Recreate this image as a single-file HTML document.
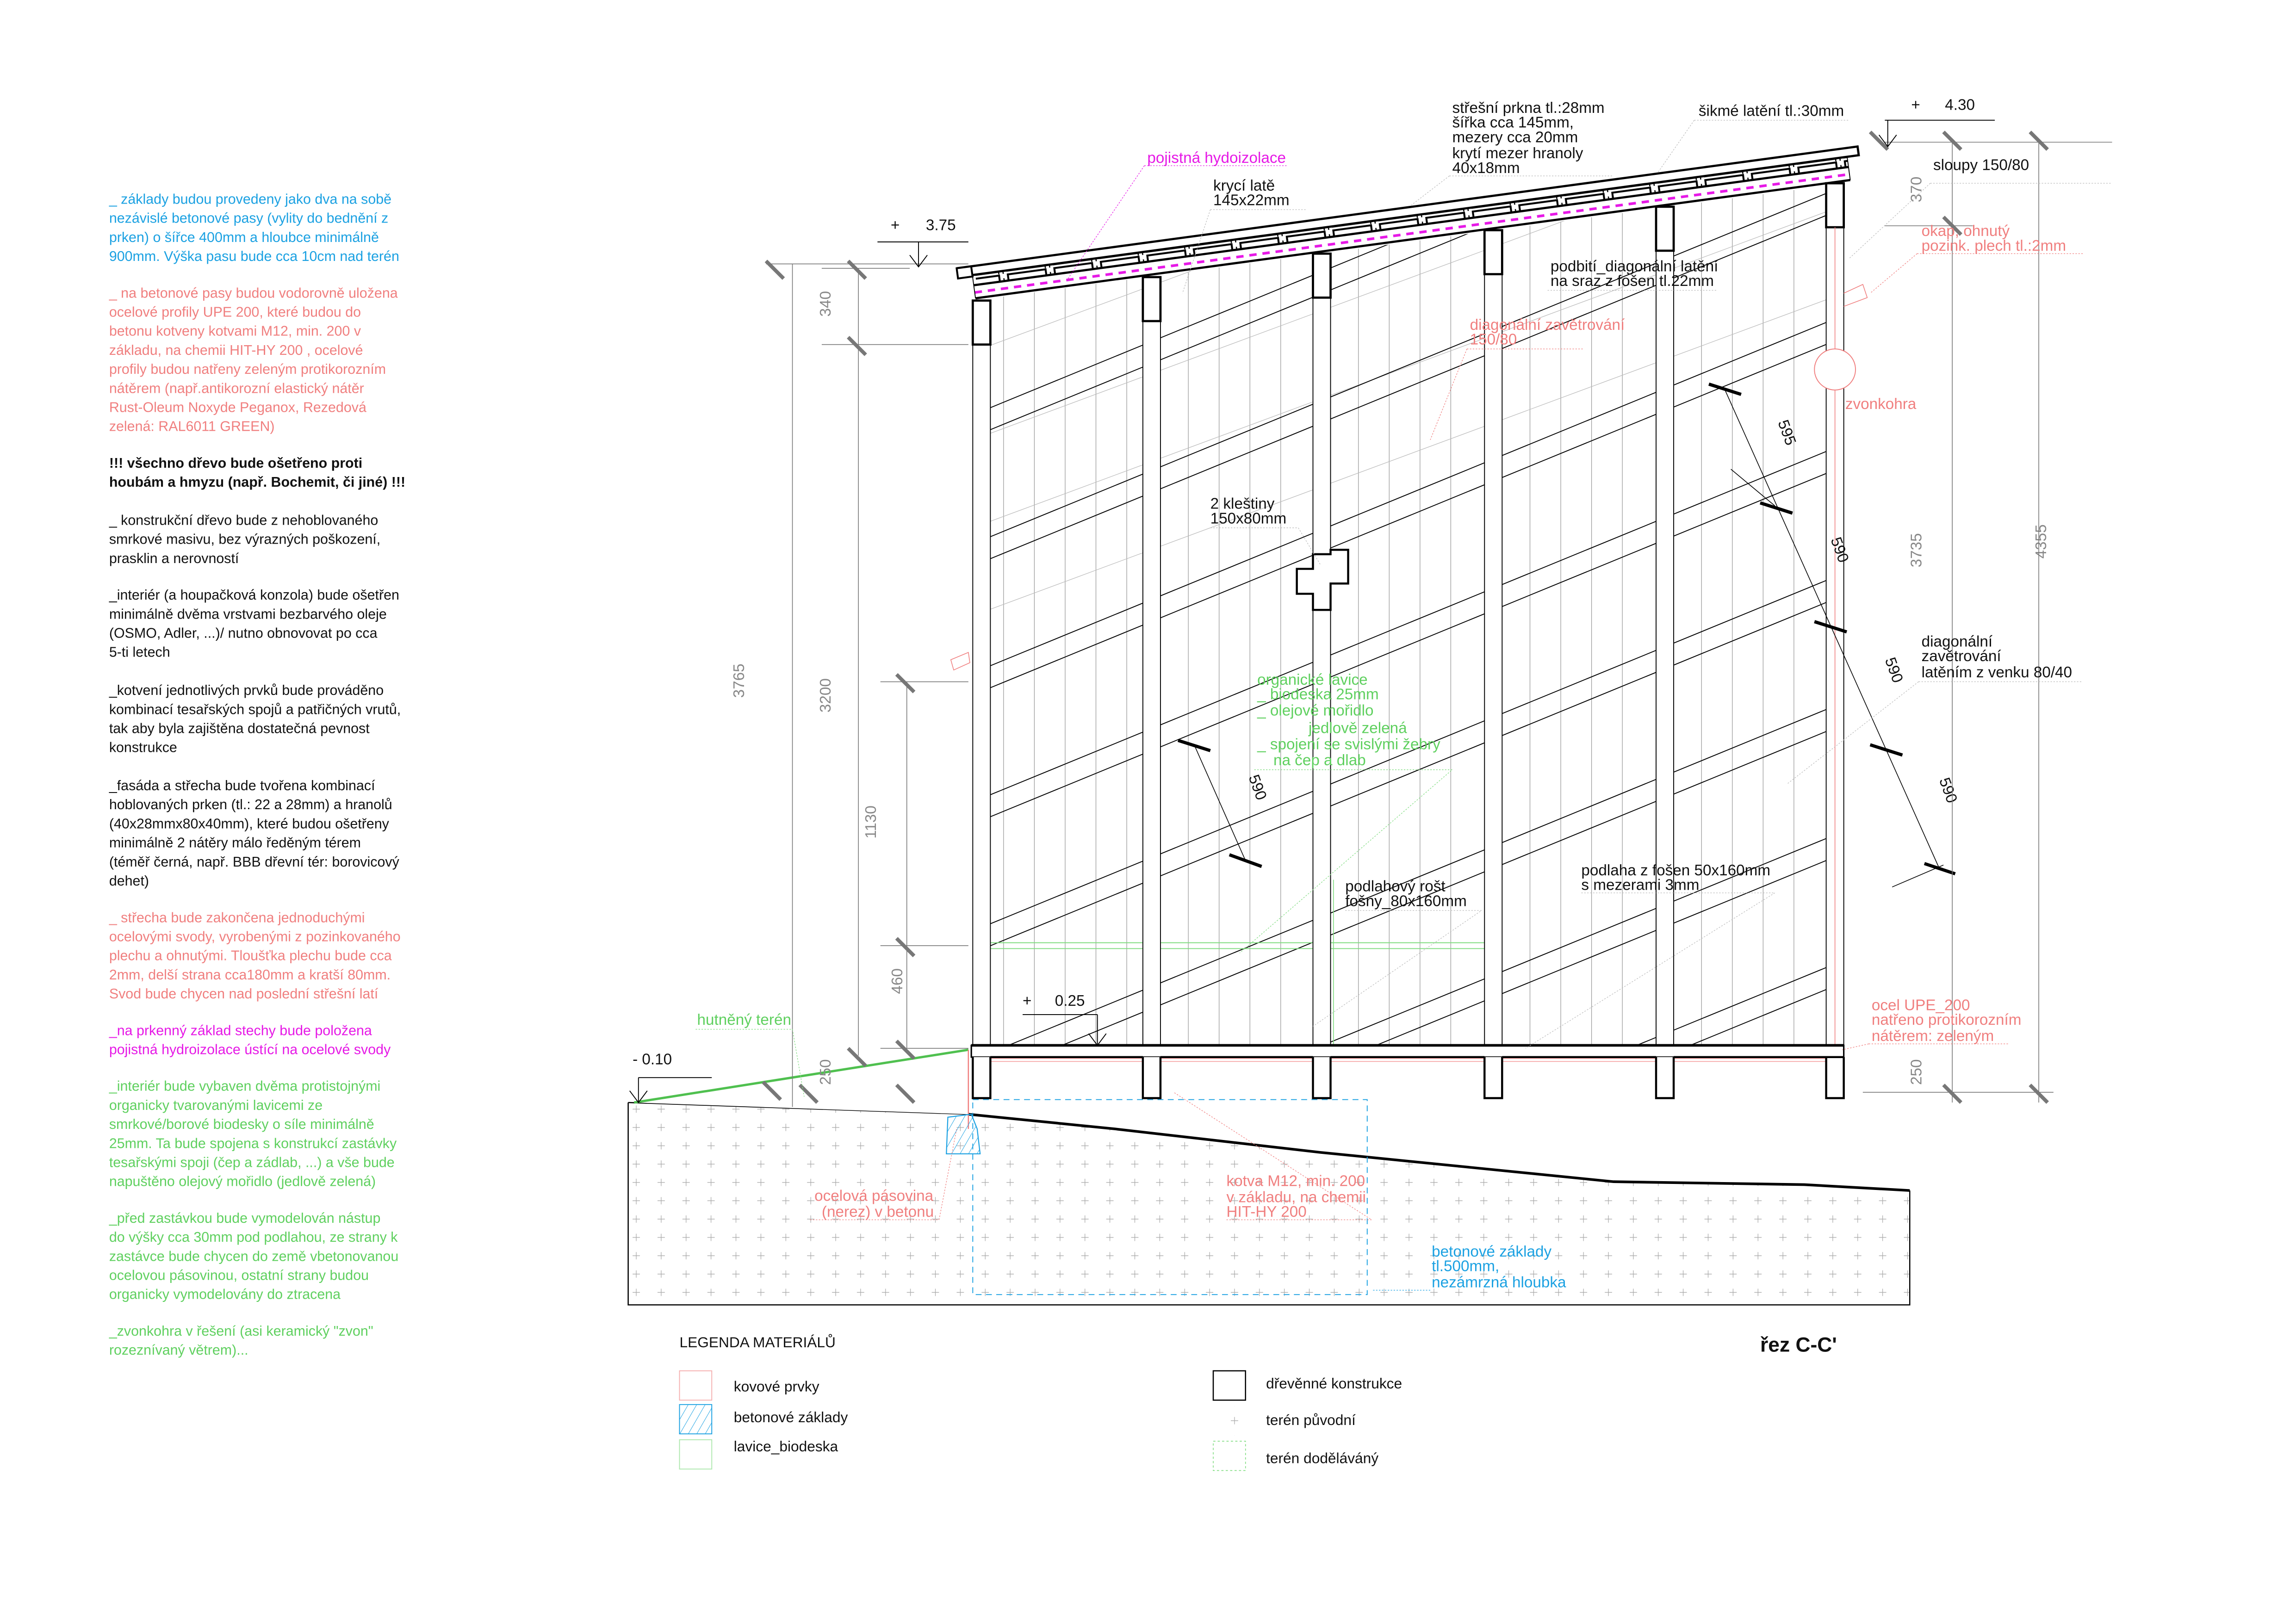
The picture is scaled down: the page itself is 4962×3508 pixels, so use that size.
<!DOCTYPE html>
<html><head><meta charset="utf-8"><style>
html,body{margin:0;padding:0;background:#fff}
svg{display:block}
text{font-family:"Liberation Sans",sans-serif}
.n{font-family:"Liberation Sans Narrow","Liberation Sans",sans-serif;font-size:10.5px}
.lt{font-size:9.6px}
.c{fill:#1ba1e2}.s{fill:#f07f7f}.g{fill:#5fd05f}.m{fill:#e619e6}.k{fill:#111}
.d{fill:#888;font-size:10.5px}
</style></head><body>
<svg width="4962" height="3508" viewBox="0 0 1565 1107" xmlns="http://www.w3.org/2000/svg">
<defs>
<pattern id="cr" width="17" height="12.5" patternUnits="userSpaceOnUse">
<path d="M6 6.5h5M8.5 4v5" stroke="#aaa" stroke-width="0.4"/>
</pattern>
<pattern id="slat" width="32" height="8" patternUnits="userSpaceOnUse">
<rect x="2" y="0.8" width="26" height="5.4" fill="none" stroke="#000" stroke-width="1.3"/>
<path d="M28 3v5M31 3v5" stroke="#000" stroke-width="0.8"/>
</pattern>
<pattern id="hat" width="5" height="5" patternUnits="userSpaceOnUse" patternTransform="rotate(30)">
<path d="M0 0v5" stroke="#1ba1e2" stroke-width="0.6"/>
</pattern>
<clipPath id="wall"><path d="M663 205 L1257 125 L1257 713 L663 713 Z"/></clipPath>
</defs>
<rect width="1565" height="1107" fill="#fff"/>

<!-- LEFT TEXT -->
<g class="lt">
<text class="c" x="74" y="139">_ základy budou provedeny jako dva na sobě</text>
<text class="c" x="74" y="152">nezávislé betonové pasy (vylity do bednění z</text>
<text class="c" x="74" y="165">prken) o šířce 400mm a hloubce minimálně</text>
<text class="c" x="74" y="178">900mm. Výška pasu bude cca 10cm nad terén</text>
<text class="s" x="74" y="203">_ na betonové pasy budou vodorovně uložena</text>
<text class="s" x="74" y="216">ocelové profily UPE 200, které budou do</text>
<text class="s" x="74" y="229">betonu kotveny kotvami M12, min. 200 v</text>
<text class="s" x="74" y="242">základu, na  chemii HIT-HY 200 , ocelové</text>
<text class="s" x="74" y="255">profily budou natřeny zeleným protikorozním</text>
<text class="s" x="74" y="268">nátěrem (např.antikorozní elastický nátěr</text>
<text class="s" x="74" y="281">Rust-Oleum Noxyde Peganox, Rezedová</text>
<text class="s" x="74" y="294">zelená: RAL6011 GREEN)</text>
<text class="k" x="74" y="319" font-weight="bold">!!! všechno dřevo bude ošetřeno proti</text>
<text class="k" x="74" y="332" font-weight="bold">houbám a hmyzu (např. Bochemit, či jiné) !!!</text>
<text class="k" x="74" y="358">_ konstrukční dřevo bude z nehoblovaného</text>
<text class="k" x="74" y="371">smrkové masivu, bez výrazných poškození,</text>
<text class="k" x="74" y="384">prasklin a nerovností</text>
<text class="k" x="74" y="409">_interiér (a houpačková konzola) bude ošetřen</text>
<text class="k" x="74" y="422">minimálně dvěma vrstvami bezbarvého oleje</text>
<text class="k" x="74" y="435">(OSMO, Adler, ...)/ nutno obnovovat po cca</text>
<text class="k" x="74" y="448">5-ti letech</text>
<text class="k" x="74" y="474">_kotvení jednotlivých prvků bude prováděno</text>
<text class="k" x="74" y="487">kombinací tesařských spojů a patřičných vrutů,</text>
<text class="k" x="74" y="500"> tak aby byla zajištěna dostatečná pevnost</text>
<text class="k" x="74" y="513">konstrukce</text>
<text class="k" x="74" y="539">_fasáda a střecha bude tvořena kombinací</text>
<text class="k" x="74" y="552">hoblovaných prken (tl.: 22 a 28mm) a hranolů</text>
<text class="k" x="74" y="565">(40x28mmx80x40mm), které budou ošetřeny</text>
<text class="k" x="74" y="578">minimálně 2 nátěry málo ředěným térem</text>
<text class="k" x="74" y="591">(téměř černá, např. BBB dřevní tér: borovicový</text>
<text class="k" x="74" y="604">dehet)</text>
<text class="s" x="74" y="629">_ střecha bude zakončena jednoduchými</text>
<text class="s" x="74" y="642">ocelovými svody, vyrobenými z pozinkovaného</text>
<text class="s" x="74" y="655">plechu a ohnutými. Tloušťka plechu bude cca</text>
<text class="s" x="74" y="668">2mm, delší strana cca180mm a kratší 80mm.</text>
<text class="s" x="74" y="681">Svod bude chycen nad poslední střešní latí</text>
<text class="m" x="74" y="706">_na prkenný základ stechy bude položena</text>
<text class="m" x="74" y="719">pojistná hydroizolace ústící na ocelové svody</text>
<text class="g" x="74" y="744">_interiér bude vybaven dvěma protistojnými</text>
<text class="g" x="74" y="757">organicky tvarovanými lavicemi ze</text>
<text class="g" x="74" y="770">smrkové/borové biodesky o síle  minimálně</text>
<text class="g" x="74" y="783">25mm. Ta bude spojena s konstrukcí zastávky</text>
<text class="g" x="74" y="796">tesařskými spoji (čep a zádlab, ...) a vše bude</text>
<text class="g" x="74" y="809">napuštěno olejový mořidlo (jedlově zelená)</text>
<text class="g" x="74" y="834">_před zastávkou bude  vymodelován nástup</text>
<text class="g" x="74" y="847">do výšky cca 30mm pod podlahou, ze strany k</text>
<text class="g" x="74" y="860">zastávce bude chycen do země vbetonovanou</text>
<text class="g" x="74" y="873">ocelovou pásovinou, ostatní strany budou</text>
<text class="g" x="74" y="886">organicky vymodelovány do ztracena</text>
<text class="g" x="74" y="911">_zvonkohra v řešení (asi keramický "zvon"</text>
<text class="g" x="74" y="924">rozeznívaný větrem)...</text>
</g>

<!-- TERRAIN -->
<path d="M428 752 L660 760 L760 770 L900 786 L1000 796 L1100 806 L1230 808 L1302 812 L1302 890 L428 890 Z" fill="url(#cr)"/>
<path d="M428 752 L660 760" stroke="#000" stroke-width="0.8" fill="none"/>
<path d="M660 760 L760 770 L900 786 L1000 796 L1100 806 L1230 808 L1302 812" stroke="#000" stroke-width="1.8" fill="none"/>
<path d="M428 752 V890 H1302 V812" stroke="#000" stroke-width="0.8" fill="none"/>
<path d="M432 752 L660 715 L660 760 Z" fill="#fff"/>
<path d="M432 752 L660 716" stroke="#4fc04f" stroke-width="1.6"/>
<path d="M660 716 V770" stroke="#f07f7f" stroke-width="0.8"/>
<path d="M646 762 L662 760 L666 770 L668 787 L645 787 Z" fill="url(#hat)" stroke="#1ba1e2" stroke-width="0.7"/>
<rect x="663" y="750" width="269" height="133" fill="none" stroke="#1ba1e2" stroke-width="0.6" stroke-dasharray="4 3"/>
<path d="M663 722 H1257 M663 724 H1257" stroke="#f5a0a0" stroke-width="0.5"/>

<!-- WALL -->
<g clip-path="url(#wall)">
<g stroke="#999" stroke-width="0.4">
<path d="M684 100V713M705 100V713M726 100V713M747 100V713M768 100V713M810 100V713M831 100V713M852 100V713M873 100V713M926 100V713M947 100V713M968 100V713M989 100V713M1043 100V713M1064 100V713M1085 100V713M1106 100V713M1160 100V713M1181 100V713M1202 100V713M1223 100V713"/>
</g>
<g stroke="#bbb" stroke-width="0.4">
<path d="M663 240 L1257 20M663 300 L1257 80M663 360 L1257 140M663 420 L1257 200"/>
</g>
<g stroke="#000" stroke-width="0.6">
<path d="M663 283 L1257 39M663 298 L1257 54"/>
<path d="M663 371 L1257 127M663 386 L1257 142"/>
<path d="M663 459 L1257 215M663 474 L1257 230"/>
<path d="M663 547 L1257 303M663 562 L1257 318"/>
<path d="M663 635 L1257 391M663 650 L1257 406"/>
<path d="M663 723 L1257 479M663 738 L1257 494"/>
<path d="M663 811 L1257 567M663 826 L1257 582"/>
<path d="M663 899 L1257 655M663 914 L1257 670"/>
</g>
</g>
<path d="M663 643 H1012 M663 647 H1012" stroke="#7fdc7f" stroke-width="0.6"/>
<path d="M905 600 V713 M909 600 V713" stroke="#7fdc7f" stroke-width="0.5"/>

<!-- COLUMNS -->
<g stroke="#000" fill="#fff">
<rect x="663" y="205" width="12" height="508" stroke-width="0.6"/>
<rect x="779" y="189" width="12" height="524" stroke-width="0.6"/>
<rect x="895" y="173" width="12" height="540" stroke-width="0.6"/>
<rect x="1012" y="157" width="12" height="556" stroke-width="0.6"/>
<rect x="1129" y="141" width="12" height="572" stroke-width="0.6"/>
<rect x="1245" y="125" width="12" height="588" stroke-width="0.6"/>
<rect x="663" y="205" width="12" height="30" stroke-width="1.5"/>
<rect x="779" y="189" width="12" height="30" stroke-width="1.5"/>
<rect x="895" y="173" width="12" height="30" stroke-width="1.5"/>
<rect x="1012" y="157" width="12" height="30" stroke-width="1.5"/>
<rect x="1129" y="141" width="12" height="30" stroke-width="1.5"/>
<rect x="1245" y="125" width="12" height="30" stroke-width="1.5"/>
</g>
<path d="M1251 155 V713" stroke="#f07f7f" stroke-width="0.5"/>
<circle cx="1251" cy="252" r="14" fill="#fff" stroke="#f07f7f" stroke-width="0.6"/>
<path d="M1257 200 L1270 194 L1273 203 L1257 209" fill="none" stroke="#f07f7f" stroke-width="0.5"/>
<path d="M648 450 L660 445 L661 452 L650 457Z" fill="none" stroke="#f07f7f" stroke-width="0.5"/>
<!-- kleštiny -->
<path d="M884 388 H895 V378 H907 V375 H919 V398 H907 V416 H895 V405 H884 Z" fill="#fff" stroke="#000" stroke-width="1.4"/>

<!-- FLOOR BEAM -->
<rect x="662" y="713" width="595" height="8" fill="#fff" stroke="#000" stroke-width="1"/>
<path d="M662 713 H1257" stroke="#000" stroke-width="1.8"/>
<g fill="#fff" stroke="#000" stroke-width="1.4">
<path d="M663 721 V749 H675 V721"/><path d="M779 721 V749 H791 V721"/><path d="M895 721 V749 H907 V721"/>
<path d="M1012 721 V749 H1024 V721"/><path d="M1129 721 V749 H1141 V721"/><path d="M1245 721 V749 H1257 V721"/>
</g>
<path d="M675 721 H779 M791 721 H895 M907 721 H1012 M1024 721 H1129 M1141 721 H1257" stroke="#000" stroke-width="1.4"/>

<!-- ROOF -->
<g transform="translate(652 183) rotate(-7.7)">
<path d="M0 0 L620 0 L620 6 L8 6" fill="#fff" stroke="#000" stroke-width="1.5"/>
<rect x="0" y="0" width="10" height="7" fill="#fff" stroke="#000" stroke-width="1.3"/>
<rect x="12" y="6.5" width="600" height="6.2" fill="url(#slat)"/>
<path d="M10 13 L612 13" stroke="#000" stroke-width="1.5"/>
<path d="M10 18 L612 18" stroke="#e619e6" stroke-width="1.8" stroke-dasharray="5 4"/>
<path d="M10 22 L612 22" stroke="#000" stroke-width="1.5"/>
<path d="M10 6 V22 M612 6 V22" stroke="#000" stroke-width="0.6"/>
</g>

<!-- DIM TICKS 590 -->
<g stroke="#000" stroke-width="2.2">
<path d="M1165 262 L1187 269M1200 343 L1222 350M1237 424 L1259 431M1275 508 L1297 515M1312 589 L1333 596"/>
<path d="M803 505 L825 512M838 583 L860 591"/>
</g>
<path d="M1176 266 L1322 592 M814 508 L849 587" stroke="#000" stroke-width="0.5"/>
<path d="M1180 320 L1210 345 M1290 605 L1325 590" stroke="#000" stroke-width="0.5"/>
<g class="n k" font-size="10">
<text transform="translate(1212 288) rotate(70)">595</text>
<text transform="translate(1248 368) rotate(70)">590</text>
<text transform="translate(1285 450) rotate(70)">590</text>
<text transform="translate(1322 532) rotate(70)">590</text>
<text transform="translate(851 530) rotate(70)">590</text>
</g>

<!-- LEFT DIMENSIONS -->
<g stroke="#777" stroke-width="0.5">
<path d="M540 180 V755 M585 183 V720 M618 465 V715 M522 180 H660 M560 235 H660 M560 183 H620 M600 465 H660 M600 645 H660 M600 715 H660"/>
</g>
<g stroke="#777" stroke-width="2.5">
<path d="M522 178 L534 190 M578 178 L590 190 M578 230 L590 242 M611 460 L623 472 M611 640 L623 652 M611 710 L623 722 M578 715 L590 727 M520 738 L532 750 M545 740 L557 752 M611 740 L623 752 M1275 90 L1287 102 M1384 90 L1396 102 M1325 90 L1337 102 M1325 148 L1337 160 M1325 740 L1337 752 M1384 740 L1396 752"/>
</g>
<g class="d">
<text transform="translate(507 476) rotate(-90)">3765</text>
<text transform="translate(566 216) rotate(-90)">340</text>
<text transform="translate(566 486) rotate(-90)">3200</text>
<text transform="translate(597 572) rotate(-90)">1130</text>
<text transform="translate(615 678) rotate(-90)">460</text>
<text transform="translate(566 740) rotate(-90)">250</text>
<text transform="translate(1395 381) rotate(-90)">4355</text>
<text transform="translate(1310 387) rotate(-90)">3735</text>
<text transform="translate(1310 138) rotate(-90)">370</text>
<text transform="translate(1310 740) rotate(-90)">250</text>
</g>
<g stroke="#777" stroke-width="0.5">
<path d="M1331 97 V752 M1390 97 V752 M1285 97 H1440 M1285 154 H1345 M1270 745 H1400"/>
</g>

<!-- LEVEL MARKS -->
<g stroke="#000" stroke-width="0.6" fill="none">
<path d="M598 165 H660 M626 165 V182 M620 174 L626 182 L632 174"/>
<path d="M1285 82 H1360 M1287 82 V100 M1281 92 L1287 100 L1293 92"/>
<path d="M697 692 H748 M748 692 V713 M742 705 L748 713 L754 705"/>
<path d="M435 735 H485 M435 735 V752 M429 744 L435 752 L441 744"/>
</g>
<g class="n k">
<text x="607" y="157">+</text><text x="631" y="157">3.75</text>
<text x="1303" y="75">+</text><text x="1326" y="75">4.30</text>
<text x="697" y="686">+</text><text x="719" y="686">0.25</text>
<text x="431" y="726">- 0.10</text>
</g>

<!-- LEADERS -->
<g stroke="#bbb" stroke-width="0.4" stroke-dasharray="1 1" fill="none">
<path d="M780 113 H878 M780 113 L728 190" stroke="#e619e6"/>
<path d="M825 143 H890 M825 143 L806 200"/>
<path d="M988 120 H1100 M988 120 L962 140"/>
<path d="M1155 82 H1260 M1155 82 L1130 118"/>
<path d="M1316 125 H1440 M1316 125 L1261 176"/>
<path d="M1307 173 H1420 M1307 173 L1275 200" stroke="#f07f7f"/>
<path d="M1000 238 H1080 M1000 238 L975 300" stroke="#f07f7f"/>
<path d="M1055 198 H1170"/>
<path d="M1308 465 H1420 M1308 465 L1218 535"/>
<path d="M825 360 H885 L900 385"/>
<path d="M855 525 H990 L845 650" stroke="#7fdc7f"/>
<path d="M917 621 H1010 L895 700"/>
<path d="M1078 609 H1210 L1040 715"/>
<path d="M1274 712 H1370 M1274 712 L1256 716" stroke="#f07f7f"/>
<path d="M474 702 H540 L548 748" stroke="#7fdc7f"/>
<path d="M836 832 H935 L800 745" stroke="#f07f7f"/>
<path d="M552 832 H640 L652 770" stroke="#f07f7f"/>
<path d="M975 880 H935" stroke="#1ba1e2"/>
</g>

<!-- LABELS -->
<g class="n">
<text class="m" x="782" y="111">pojistná hydoizolace</text>
<text class="k" x="827" y="130">krycí latě</text><text class="k" x="827" y="140">145x22mm</text>
<text class="k" x="990" y="77">střešní prkna tl.:28mm</text>
<text class="k" x="990" y="87">šířka cca 145mm,</text>
<text class="k" x="990" y="97">mezery cca 20mm</text>
<text class="k" x="990" y="108">krytí mezer hranoly</text>
<text class="k" x="990" y="118">40x18mm</text>
<text class="k" x="1158" y="79">šikmé latění tl.:30mm</text>
<text class="k" x="1318" y="116">sloupy 150/80</text>
<text class="s" x="1310" y="161">okap, ohnutý</text>
<text class="s" x="1310" y="171">pozink. plech tl.:2mm</text>
<text class="k" x="1057" y="185">podbití_diagonální latění</text>
<text class="k" x="1057" y="195">na sraz z fošen tl.22mm</text>
<text class="s" x="1002" y="225">diagonální zavětrování</text>
<text class="s" x="1002" y="235">150/80</text>
<text class="s" x="1258" y="279">zvonkohra</text>
<text class="k" x="1310" y="441">diagonální</text>
<text class="k" x="1310" y="451">zavětrování</text>
<text class="k" x="1310" y="462">latěním z venku 80/40</text>
<text class="k" x="825" y="347">2 kleštiny</text>
<text class="k" x="825" y="357">150x80mm</text>
<text class="g" x="857" y="467">organické lavice</text>
<text class="g" x="857" y="477">_  biodeska 25mm</text>
<text class="g" x="857" y="488">_  olejové mořidlo</text>
<text class="g" x="892" y="500">jedlově zelená</text>
<text class="g" x="857" y="511">_  spojení se svislými žebry</text>
<text class="g" x="868" y="522">na čep a dlab</text>
<text class="k" x="917" y="608">podlahový rošt</text>
<text class="k" x="917" y="618">fošny_80x160mm</text>
<text class="k" x="1078" y="597">podlaha z fošen 50x160mm</text>
<text class="k" x="1078" y="607">s mezerami 3mm</text>
<text class="s" x="1276" y="689">ocel UPE_200</text>
<text class="s" x="1276" y="699">natřeno protikorozním</text>
<text class="s" x="1276" y="710">nátěrem: zeleným</text>
<text class="g" x="475" y="699">hutněný terén</text>
<text class="s" x="836" y="809">kotva M12, min. 200</text>
<text class="s" x="836" y="820">v základu, na  chemii</text>
<text class="s" x="836" y="830">HIT-HY 200</text>
<text class="s" x="555" y="819">ocelová pásovina</text>
<text class="s" x="560" y="830">(nerez) v betonu</text>
<text class="c" x="976" y="857">betonové základy</text>
<text class="c" x="976" y="867">tl.500mm,</text>
<text class="c" x="976" y="878">nezámrzná hloubka</text>
</g>

<!-- LEGEND -->
<text x="463" y="919" font-size="10" fill="#111">LEGENDA MATERIÁLŮ</text>
<rect x="463" y="935" width="22" height="20" fill="none" stroke="#f5b0b0" stroke-width="0.6"/>
<rect x="463" y="958" width="22" height="20" fill="url(#hat)" stroke="#1ba1e2" stroke-width="0.6"/>
<rect x="463" y="982" width="22" height="20" fill="none" stroke="#aee8ae" stroke-width="0.6"/>
<text x="500" y="949" font-size="10" fill="#111">kovové prvky</text>
<text x="500" y="970" font-size="10" fill="#111">betonové základy</text>
<text x="500" y="990" font-size="10" fill="#111">lavice_biodeska</text>
<rect x="827" y="935" width="22" height="20" fill="none" stroke="#000" stroke-width="0.8"/>
<rect x="827" y="959" width="22" height="20" fill="url(#cr)"/>
<rect x="827" y="983" width="22" height="20" fill="none" stroke="#7fdc7f" stroke-width="0.5" stroke-dasharray="1.5 1.5"/>
<text x="863" y="947" font-size="10" fill="#111">dřevěnné konstrukce</text>
<text x="863" y="972" font-size="10" fill="#111">terén původní</text>
<text x="863" y="998" font-size="10" fill="#111">terén doděláváný</text>
<text x="1200" y="922" font-size="14" font-weight="bold" fill="#111">řez C-C'</text>
</svg>
</body></html>
